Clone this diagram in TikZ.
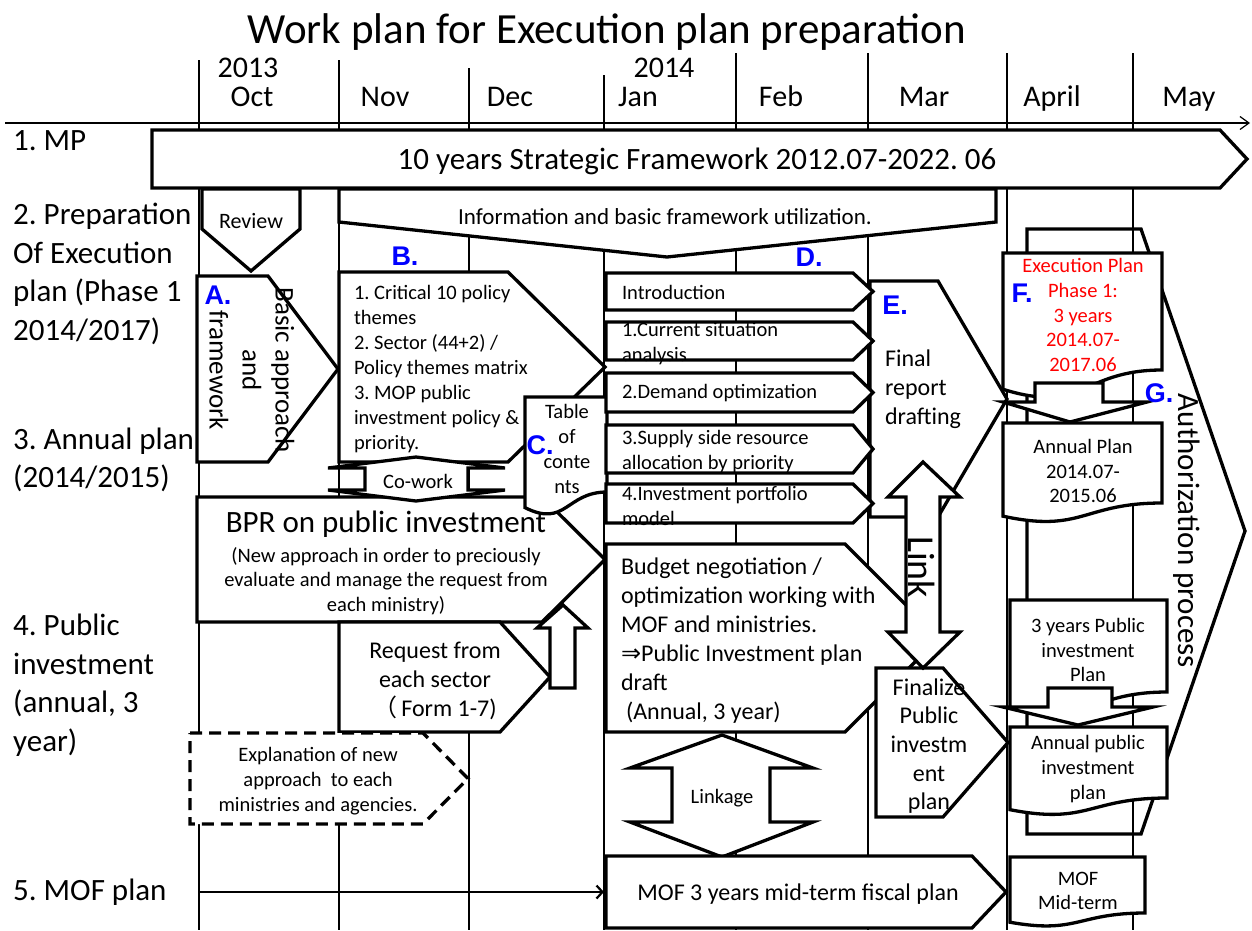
\documentclass[tikz,border=0pt]{standalone}
\usepackage{fontspec}
\setmainfont{Carlito}
\newfontfamily\labfont{Liberation Sans}
\newfontfamily\symfont{DejaVu Sans}
\newfontfamily\cjkfont{Noto Sans CJK SC}
\usetikzlibrary{arrows.meta}
\frenchspacing

\newcommand\fz[2]{\fontsize{#1}{#2}\selectfont}
% right-pointing pentagon: [options]{left}{top}{shoulder x}{tip x}{bottom}
\newcommand\pent[6][]{\draw[shp,#1] (#2,#3) -- (#4,#3) -- (#5,{(#3+#6)/2}) -- (#4,#6) -- (#2,#6) -- cycle;}
% document shape with wavy bottom: {left}{top}{right}{bottom y at right edge}
\newcommand\docshape[4]{\draw[shp] (#1,#2) -- (#3,#2) -- (#3,#4)
  .. controls ({(#1+#3)/2},#4) and ({(#1+#3)/2},{#2+1.38*(#4-#2)}) .. (#1,{#2+1.1646*(#4-#2)}) -- cycle;}

\begin{document}
\begin{tikzpicture}[x=1pt,y=-1pt,
  gridline/.style={line width=1.2pt},
  shp/.style={draw, line width=3.3pt, fill=white},
  tx/.style={inner sep=0pt, outer sep=0pt, align=center},
  tl/.style={inner sep=0pt, outer sep=0pt, align=left, anchor=west},
  sm/.style={font=\fz{20.5}{24.8}},
  md/.style={font=\fz{24}{29}},
  mon/.style={tx, anchor=base, font=\fz{30}{30}},
  row/.style={inner sep=0pt, align=left, anchor=west, font=\fz{31}{38.5}},
  lab/.style={inner sep=0pt, text=blue, font=\labfont\bfseries\fz{27}{27}},
]
\useasboundingbox (0,0) rectangle (1252,930);

% month grid and time axis
\foreach \gx/\gt in {199/60,339/60,469/68,604/75,736/53,868/53,1007/53,1133/53}
  \draw[gridline] (\gx,\gt) -- (\gx,930);
\coordinate (axL) at (5,123);
\coordinate (axR) at (1250,123);
\draw[gridline,-{Straight Barb[length=9pt,width=13pt]}] (axL) -- (axR);

% authorization process frame (open, grid shows through)
\draw[line width=3.3pt] (1027,229) -- (1141,229) -- (1245,531) -- (1141,834) -- (1027,834) -- cycle;

% row 1 and 2
\pent{152}{130}{1220}{1247}{188}
\draw[shp] (202,189) -- (300,189) -- (300,229) -- (251,271) -- (202,229) -- cycle;
\draw[shp] (339,189) -- (996,189) -- (996,222) -- (667,257) -- (339,222) -- cycle;

% A, B, BPR, C and co-work
\pent{197}{276}{268}{338}{462}
\pent{339}{272}{508}{605}{462}
\pent{197}{497}{542}{605}{622}
\docshape{525}{397}{607}{492}
\draw[shp] (416,457) -- (505,468) -- (468,468) -- (468,490) -- (505,490) -- (416,501)
  -- (328,490) -- (365,490) -- (365,468) -- (328,468) -- cycle;

% requests and explanation
\pent{339}{622}{500}{550}{732}
\draw[shp] (550,688) -- (550,628) -- (537,628) -- (563,605) -- (588,628) -- (575,628) -- (575,688) -- cycle;
\pent[dashed, dash pattern=on 12pt off 7pt]{190}{733}{423}{468}{824}

% report chapters, final drafting, budget
\pent{870}{281}{938}{1007}{517}
\pent{606}{273}{853}{873}{310}
\pent{606}{322}{853}{873}{360}
\pent{606}{373}{853}{873}{412}
\pent{606}{425}{853}{873}{473}
\pent{606}{484}{853}{873}{523}
\pent{606}{544}{845}{939}{732}
\pent{876}{668}{943}{1008}{817}
\draw[shp] (923,462) -- (960,497) -- (940,497) -- (940,632) -- (960,632) -- (923,668)
  -- (888,632) -- (906,632) -- (906,497) -- (888,497) -- cycle;
\draw[shp] (722,735) -- (813,768) -- (770,768) -- (770,822) -- (813,822) -- (722,857)
  -- (630,822) -- (672,822) -- (672,768) -- (630,768) -- cycle;
\pent{606}{856}{972}{1006}{928}

% plan documents
\docshape{1003}{253}{1162}{370}
\draw[shp] (1035,383) -- (1103,383) -- (1103,402) -- (1147,402) -- (1070,422) -- (1003,402) -- (1035,402) -- cycle;
\docshape{1003}{423}{1162}{503}
\docshape{1010}{600}{1167}{692}
\draw[shp] (1048,688) -- (1112,688) -- (1112,707) -- (1153,707) -- (1078,725) -- (1003,707) -- (1048,707) -- cycle;
\docshape{1010}{727}{1167}{798}
\docshape{1010}{857}{1145}{913}

% MOF plan timeline arrow
\coordinate (mofS) at (199,892);
\coordinate (mofE) at (604,892);
\draw[line width=2.2pt,-{Straight Barb[length=6pt,width=13pt]}] (mofS) -- (mofE);

% title and months
\node[tx, anchor=base, font=\fz{43}{50}] (title) at (607,43) {Work plan for Execution plan preparation};
\node[mon] (y2013) at (248,77) {2013};
\node[mon] (y2014) at (664,77) {2014};
\node[mon] (mOct) at (252,106) {Oct};
\node[mon] (mNov) at (385,106) {Nov};
\node[mon] (mDec) at (510,106) {Dec};
\node[mon] (mJan) at (638,106) {Jan};
\node[mon] (mFeb) at (781,106) {Feb};
\node[mon] (mMar) at (924,106) {Mar};
\node[mon] (mApr) at (1052,106) {April};
\node[mon] (mMay) at (1189,106) {May};

% row headings
\node[row] (r1) at (13,141) {1. MP};
\node[row] (r2) at (13,274) {2. Preparation\\Of Execution\\plan (Phase 1\\2014/2017)};
\node[row] (r3) at (13,460) {3. Annual plan\\(2014/2015)};
\node[row] (r4) at (13,685) {4. Public\\investment\\(annual, 3\\year)};
\node[row] (r5) at (13,892) {5. MOF plan};

% texts of the shapes
\node[tx, font=\fz{31}{31}] (mpT) at (697,161) {10 years Strategic Framework 2012.07-2022. 06};
\node[tx, font=\fz{22}{22}] (revT) at (251,221) {Review};
\node[tx, font=\fz{23}{23}] (infoT) at (665,217) {Information and basic framework utilization.};
\node[tx, rotate=-90, font=\fz{27}{33}] (aT) at (252,370) {Basic approach\\and\\framework};
\node[tl, font=\fz{20.5}{25}] (bT) at (354,369) {1. Critical 10 policy\\themes\\2. Sector (44+2) /\\Policy themes matrix\\3. MOP public\\investment policy \&\\priority.};
\node[tx, font=\fz{20.5}{25}] (cT) at (567,449) {Table\\of\\conte\\nts};
\node[tx, sm] (cwT) at (418,481) {Co-work};
\node[tx, font=\fz{31}{31}] (bprT) at (386,524) {BPR on public investment};
\node[tx, font=\fz{20.5}{24.5}] (bprS) at (386,581) {(New approach in order to preciously\\evaluate and manage the request from\\each ministry)};
\node[tx, md] (reqT) at (435,681) {Request from\\each sector\\{\cjkfont （}\,Form 1-7)};
\node[tx, font=\fz{20.5}{25}] (expT) at (318,781) {Explanation of new\\approach\ \ to each\\ministries and agencies.};
\node[tl, font=\fz{20.5}{25}] (d0T) at (622,292) {Introduction};
\node[tl, font=\fz{20.5}{25}] (d1T) at (622,344) {1.Current situation\\analysis};
\node[tl, font=\fz{20.5}{25}] (d2T) at (622,393) {2.Demand optimization};
\node[tl, font=\fz{20.5}{25}] (d3T) at (622,452) {3.Supply side resource\\allocation by priority};
\node[tl, font=\fz{20.5}{25}] (d4T) at (622,506) {4.Investment portfolio\\model};
\node[tl, md] (eT) at (885,389) {Final\\report\\drafting};
\node[tl, md] (budT) at (621,641) {Budget negotiation /\\optimization working with\\MOF and ministries.\\{\symfont\fontsize{24}{29}\selectfont ⇒}Public Investment plan\\draft\\\hspace{5pt}(Annual, 3 year)};
\node[tx, rotate=-90, font=\fz{38}{38}] (linkT) at (922,567) {Link};
\node[tx, font=\fz{24}{28.7}] (finT) at (929,746) {Finalize\\Public\\investm\\ent\\plan};
\node[tx, sm] (lkT) at (722,798) {Linkage};
\node[tx, md] (mofT) at (798,894) {MOF 3 years mid-term fiscal plan};
\node[tx, sm, text=red] (fT) at (1083,315) {Execution Plan\\Phase 1:\\3 years\\2014.07-\\2017.06};
\node[tx, sm] (apT) at (1083,471) {Annual Plan\\2014.07-\\2015.06};
\node[tx, sm] (tyT) at (1088,650) {3 years Public\\investment\\Plan};
\node[tx, sm] (apiT) at (1088,769) {Annual public\\investment\\plan};
\node[tx, sm] (mmT) at (1078,891) {MOF\\Mid-term};
\node[tx, rotate=-90, font=\fz{31}{31}] (authT) at (1187,531) {Authorization process};

% step letters
\node[lab] (labA) at (218,295) {A.};
\node[lab] (labB) at (405,256) {B.};
\node[lab] (labC) at (540,445) {C.};
\node[lab] (labD) at (809,257) {D.};
\node[lab] (labE) at (895,305) {E.};
\node[lab] (labF) at (1022,293) {F.};
\node[lab] (labG) at (1159,393) {G.};
\end{tikzpicture}
\end{document}
